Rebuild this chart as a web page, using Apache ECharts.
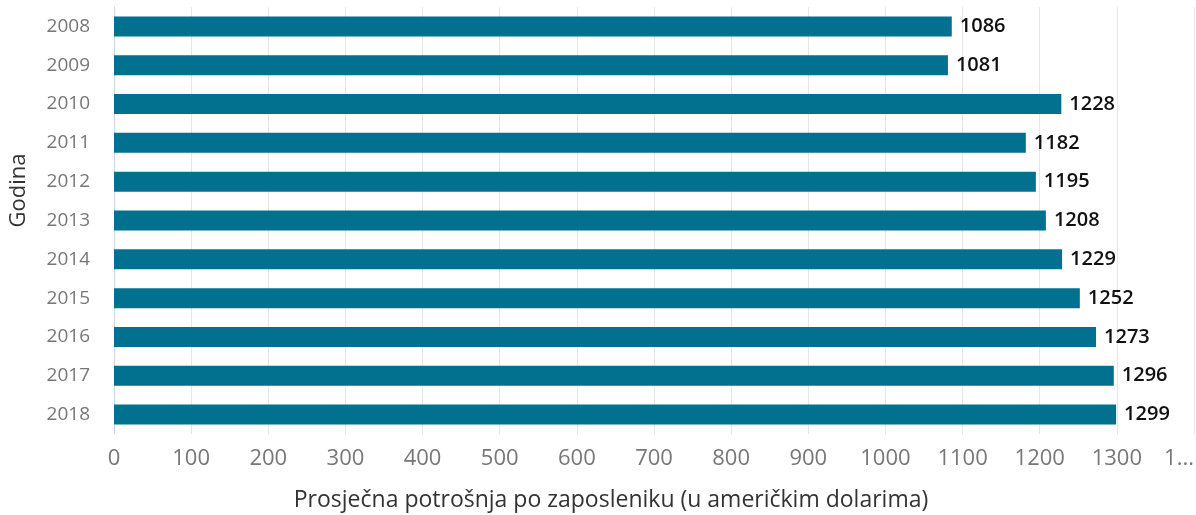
<!DOCTYPE html>
<html>
<head>
<meta charset="utf-8">
<script src="https://cdn.jsdelivr.net/npm/echarts@6/dist/echarts.min.js"></script>
<style>
  html, body { margin: 0; padding: 0; background: #fff; }
  #chart { width: 1196px; height: 515px; }
</style>
</head>
<body>
<div id="chart"></div>
<script>
// kategorije (godine) i vrijednosti
const years = ['2008', '2009', '2010', '2011', '2012', '2013', '2014', '2015', '2016', '2017', '2018']
const spending = [1086, 1081, 1228, 1182, 1195, 1208, 1229, 1252, 1273, 1296, 1299]
const axisMax = 1400
const tickStep = 100

const chart = echarts.init(document.getElementById('chart'))
chart.setOption({
  animation: false,
  textStyle: { fontFamily: 'Open Sans, Noto Sans, sans-serif' },
  grid: { left: 114, right: 2, top: 7, bottom: 81, containLabel: false, outerBoundsMode: 'none' },
  xAxis: {
    type: 'value',
    min: 0,
    max: axisMax,
    interval: tickStep,
    name: 'Prosječna potrošnja po zaposleniku (u američkim dolarima)',
    nameLocation: 'middle',
    nameGap: 55,
    nameTextStyle: { color: '#333', fontSize: 23, padding: [0, 86, 0, 0] },
    axisLine: { show: false },
    axisTick: { show: false },
    axisLabel: {
      color: '#777',
      fontSize: 22,
      margin: 14,
      alignMaxLabel: 'right',
      // zadnja oznaka je odrezana na rubu
      formatter: (v) => (v === axisMax ? '1...' : String(v))
    },
    splitLine: { lineStyle: { color: '#e6e6e6', width: 1 } }
  },
  yAxis: {
    type: 'category',
    data: years,
    inverse: true,
    name: 'Godina',
    nameLocation: 'middle',
    nameGap: 84,
    nameTextStyle: { color: '#333', fontSize: 22, padding: [0, 0, 0, 60] },
    axisLine: { show: true, lineStyle: { color: '#ccd6eb' } },
    axisTick: { show: false },
    axisLabel: { color: '#777', fontSize: 19, margin: 24 },
    splitLine: { show: false }
  },
  series: [{
    type: 'bar',
    data: spending,
    barWidth: 20,
    itemStyle: { color: '#02708f' },
    label: {
      show: true,
      position: 'right',
      distance: 8,
      color: '#111',
      fontSize: 20,
      fontWeight: 600
    }
  }]
})
</script>
</body>
</html>
